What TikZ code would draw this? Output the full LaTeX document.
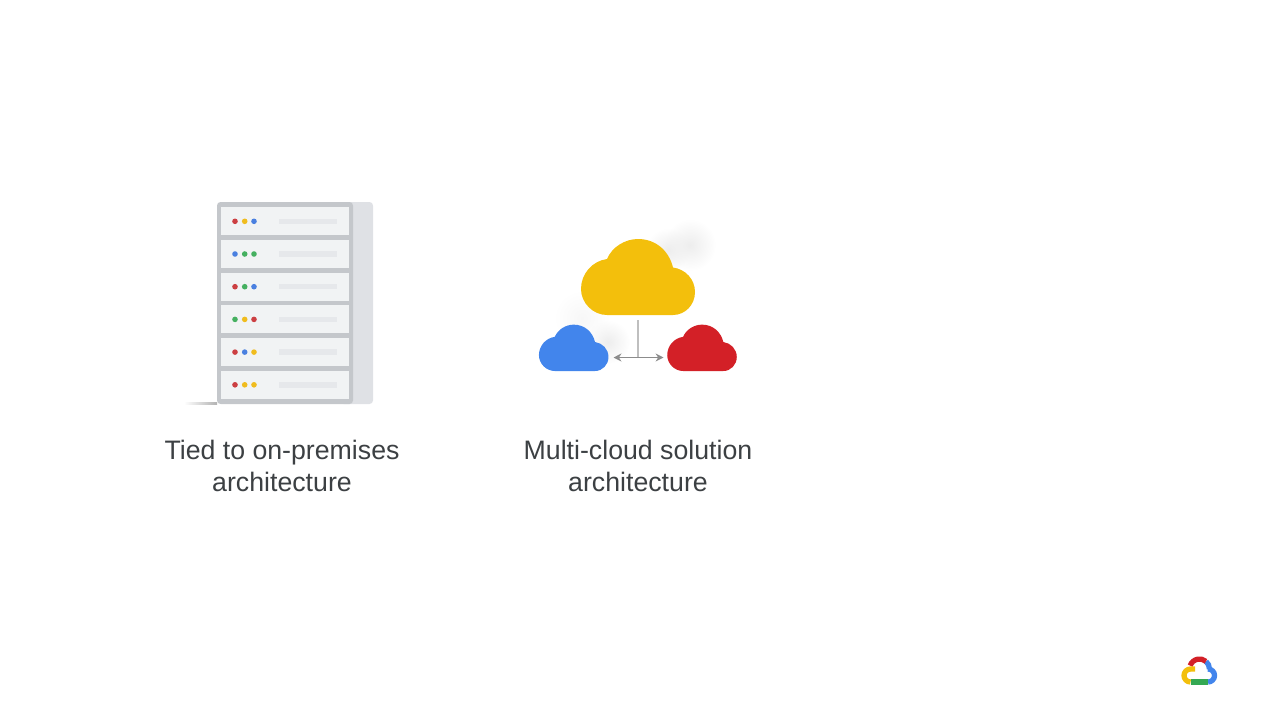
\documentclass[tikz,border=0pt]{standalone}
\usepackage{fontspec}
\setmainfont{Liberation Sans}
\usepackage{tikz}
\usetikzlibrary{arrows.meta, fadings}

\definecolor{gred}{HTML}{D32027}
\definecolor{gyellow}{HTML}{F3BF0C}
\definecolor{gblue}{HTML}{4285EC}
\definecolor{ggreen}{HTML}{34A853}
\definecolor{dotred}{HTML}{CC3F42}
\definecolor{dotyellow}{HTML}{F0BC1E}
\definecolor{dotblue}{HTML}{4A80E0}
\definecolor{dotgreen}{HTML}{45B060}
\definecolor{rackframe}{HTML}{C4C7CB}
\definecolor{rackside}{HTML}{DFE1E5}
\definecolor{rackslot}{HTML}{F1F3F4}
\definecolor{rackbar}{HTML}{E6E8EB}
\definecolor{captiontext}{HTML}{3C4043}

\tikzfading[name = puffade, inner color = transparent!0, outer color = transparent!100]

\tikzset{
	caption/.style = {align = center, text = captiontext, font = \fontsize{15.2}{18.1}\selectfont},
	puff/.style = {black!7, path fading = puffade, fit fading = true},
	logoline/.style = {line width = 3pt, line cap = butt},
}

% one cloud, x y scale colour
\newcommand{\gcloud}[4]{
	\fill [#4, shift = {(#1,#2)}, scale = #3] (-31,0)
		.. controls (-45,0) and (-57,12) .. (-57,26)
		.. controls (-57,41) and (-46,54) .. (-31,56)
		.. controls (-26,68) and (-13,76) .. (0,76)
		.. controls (18,76) and (31,64) .. (35,47.5)
		.. controls (47,46) and (57,36) .. (57,23)
		.. controls (57,10) and (47,0) .. (35,0) -- cycle;
}

\begin{document}
\begin{tikzpicture}[x = 0.02cm, y = 0.02cm]
	\useasboundingbox (0,0) rectangle (1280,-720);

	% rack
	\begin{scope}
		\shade [left color = white, right color = black!30] (184,-404) rectangle (217,-402);
		\fill [rackside, rounded corners = 2pt] (340,-202) rectangle (373,-404);
		\fill [rackframe, rounded corners = 2pt] (217,-202) rectangle (353,-404);

		\foreach \i/\ca/\cb/\cc in {0/dotred/dotyellow/dotblue, 1/dotblue/dotgreen/dotgreen, 2/dotred/dotgreen/dotblue,
			3/dotgreen/dotyellow/dotred, 4/dotred/dotblue/dotyellow, 5/dotred/dotyellow/dotyellow} {
			\def\yy{-221.3 - 32.7*\i}
			\fill [rackslot] (221,{\yy + 14}) rectangle (349,{\yy - 14});
			\fill [rackbar] (279,{\yy + 2.7}) rectangle (337,{\yy - 2.7});
			\fill [\ca] (235,{\yy}) circle (2.8);
			\fill [\cb] (244.7,{\yy}) circle (2.8);
			\fill [\cc] (254,{\yy}) circle (2.8);
		}
	\end{scope}

	% pale puffs behind the clouds
	\fill [puff] (690,-245) circle (26);
	\fill [puff] (668,-250) circle (22);
	\fill [puff] (608,-342) circle (22);
	\fill [puff, black!3] (582,-318) circle (28);

	% clouds
	\gcloud{638}{-315}{1}{gyellow}
	\gcloud{573.7}{-371}{0.61}{gblue}
	\gcloud{702}{-371}{0.61}{gred}

	% links
	\coordinate (stemtop) at (638,-320);
	\coordinate (stemfoot) at (638,-357.5);
	\coordinate (linkleft) at (613.5,-357.5);
	\coordinate (linkright) at (663.5,-357.5);
	\draw [black!25, line width = 0.8pt] (stemtop) -- (stemfoot);
	\draw [{Stealth[length = 4.5pt, width = 4.5pt]}-{Stealth[length = 4.5pt, width = 4.5pt]}, black!45, line width = 0.7pt] (linkleft) -- (linkright);

	% captions
	\node [caption] (onprem) at (282,-466) {Tied to on-premises\\architecture};
	\node [caption] (multicloud) at (638,-466) {Multi-cloud solution\\architecture};

	% logo
	\begin{scope}[shift = {(1199.5,-671)}]
		\draw [logoline, gblue] (6.4,9.66) arc (50:0:10);
		\draw [logoline, gblue] (8.5,2) arc (90:-90:6.5);
		\draw [logoline, gred] (-9.4,5.4) arc (160:50:10);
		\draw [logoline, ggreen] (-9,-11) -- (8.5,-11);
		\draw [logoline, gyellow] (-9,-11) arc (-90:-270:6.5) -- (-4.5,2);
	\end{scope}
\end{tikzpicture}
\end{document}
